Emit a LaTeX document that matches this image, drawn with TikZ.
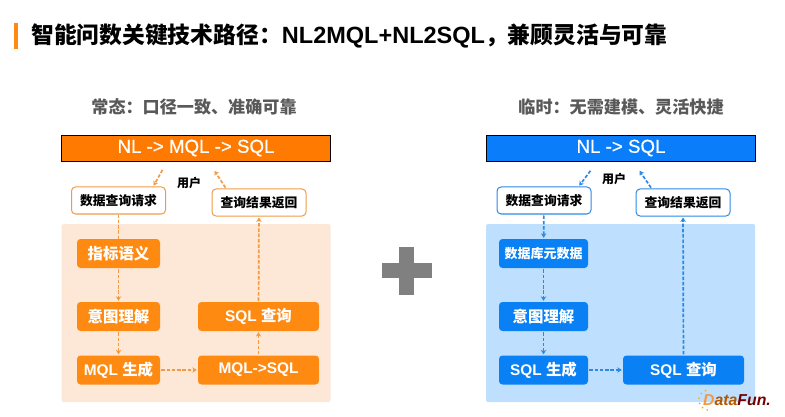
\documentclass[tikz,border=0pt]{standalone}
\usepackage{fontspec}
\setmainfont{Liberation Sans}
\newfontfamily\barfont[FakeBold=0.6]{Liberation Sans}
\newfontfamily\cjk{Noto Sans CJK SC}
\usetikzlibrary{arrows.meta}
\definecolor{orangebar}{HTML}{FF7A00}
\definecolor{orangebox}{HTML}{FF8A12}
\definecolor{orangeline}{HTML}{F29A45}
\definecolor{orangepanel}{HTML}{FDE8D8}
\definecolor{bluebar}{HTML}{0A7DFB}
\definecolor{bluebox}{HTML}{0A80F5}
\definecolor{blueline}{HTML}{2C8AE6}
\definecolor{bluepanel}{HTML}{BEDFFE}
\tikzset{
    bar/.style={draw=black, line width=0.8pt, minimum width=269pt, minimum height=26pt, inner sep=0pt, text=white, font=\barfont\fontsize{18.7}{20}\selectfont},
    panel/.style={rounded corners=1.5pt, minimum width=269pt, minimum height=178pt, inner sep=0pt},
    solidbox/.style={rounded corners=3.5pt, minimum height=29pt, inner sep=0pt, text=white, font=\bfseries\fontsize{15.4}{17}\selectfont},
    linebox/.style={draw, fill=white, rounded corners=4pt, line width=1pt, minimum width=94pt, minimum height=27pt, inner sep=0pt, font=\bfseries\fontsize{12.8}{14}\selectfont},
    heading/.style={text=black!65, font=\bfseries\fontsize{17.1}{19}\selectfont},
    flow/.style={dash pattern=on 3.5pt off 1.8pt, line width=1.7pt, -{Stealth[length=4.5pt,width=5.5pt]}, shorten <=1pt, shorten >=1pt}
}
\begin{document}
\begin{tikzpicture}[x=1pt,y=-1pt]
    \useasboundingbox (0,0) rectangle (785,417);

    % title
    \fill[orangebox] (14,23) rectangle (18,49);
    \node[anchor=west, inner sep=0pt, font=\bfseries\fontsize{22.8}{24}\selectfont] (title) at (31,36)
        {{\cjk 智能问数关键技术路径：}{\fontsize{23.5}{24}\selectfont NL2MQL+NL2SQL}{\cjk ，兼顾灵活与可靠}};

    % left and right headings
    \node[heading] (headL) at (194,107) {\cjk 常态：口径一致、准确可靠};
    \node[heading] (headR) at (621,107) {\cjk 临时：无需建模、灵活快捷};

    \node[bar, fill=orangebar] (barL) at (196,148) {NL -> MQL -> SQL};
    \node[bar, fill=bluebar] (barR) at (621,148) {NL -> SQL};

    \node[panel, fill=orangepanel] (panelL) at (196,313) {};
    \node[panel, fill=bluepanel] (panelR) at (620.5,313) {};

    \node[font=\bfseries\fontsize{12}{14}\selectfont] (userL) at (189,183) {\cjk 用户};
    \node[font=\bfseries\fontsize{12}{14}\selectfont] (userR) at (614,179) {\cjk 用户};

    % text boxes with outline
    \foreach \name/\x/\y/\c/\txt in {%
        reqL/118.5/200.5/orangeline/数据查询请求,
        retL/259/202.5/orangeline/查询结果返回,
        reqR/544/200.5/blueline/数据查询请求,
        retR/683/202.5/blueline/查询结果返回%
        }{
        \node[linebox, draw=\c] (\name) at (\x,\y) {\cjk \txt};
    }

    % filled boxes
    \foreach \name/\x/\y/\w/\c/\txt in {%
        ruleL/118.5/253.5/83/orangebox/{\cjk 指标语义},
        intentL/118.5/316.5/83/orangebox/{\cjk 意图理解},
        genL/118.5/370/83/orangebox/{MQL {\cjk 生成}},
        queryL/258.5/316.5/121/orangebox/{SQL {\cjk 查询}},
        convL/258.5/370/121/orangebox/{MQL->SQL},
        metaR/543.5/253.5/89/bluebox/{\cjk\fontsize{13}{14}\selectfont 数据库元数据},
        intentR/543.5/316.5/89/bluebox/{\cjk 意图理解},
        genR/543.5/370/89/bluebox/{SQL {\cjk 生成}},
        queryR/683.5/370/121/bluebox/{SQL {\cjk 查询}}%
        }{
        \node[solidbox, fill=\c, minimum width=\w pt] (\name) at (\x,\y) {\txt};
    }

    % free ends next to the bars
    \coordinate (fromL) at (163,169);
    \coordinate (toL) at (214,170);
    \coordinate (fromR) at (591,170);
    \coordinate (toR) at (639,170);

    \foreach \u/\v in {%
        fromL/reqL.22,
        retL.157/toL,
        ruleL/intentL,
        intentL/genL,
        genL/convL,
        convL/queryL,
        queryL/retL%
        }{
        \draw[orangeline] (\u) edge[flow] (\v);
    }
    \draw[orangeline] (reqL) edge[dash pattern=on 3.5pt off 1.8pt, line width=1.7pt] (ruleL);

    \foreach \u/\v in {%
        fromR/reqR.22,
        retR.156/toR,
        reqR/metaR,
        metaR/intentR,
        intentR/genR,
        genR/queryR,
        queryR/retR%
        }{
        \draw[blueline] (\u) edge[flow] (\v);
    }

    % plus sign
    \fill[black!50] (399,247) rectangle (414,295);
    \fill[black!50] (382,263) rectangle (432,278);

    % logo
    \foreach \a in {110,140,...,260}{
        \fill[orangebar!60!yellow] (709,400) ++(\a:10pt) circle (1pt);
    }
    \node[anchor=west, inner sep=0pt, font=\bfseries\itshape\fontsize{15.8}{17}\selectfont] (logo) at (703,400)
        {\textcolor{orangeline}{D}\textcolor{orange!70!black}{ata}\textcolor{red!45!black}{Fun.}};
\end{tikzpicture}
\end{document}
